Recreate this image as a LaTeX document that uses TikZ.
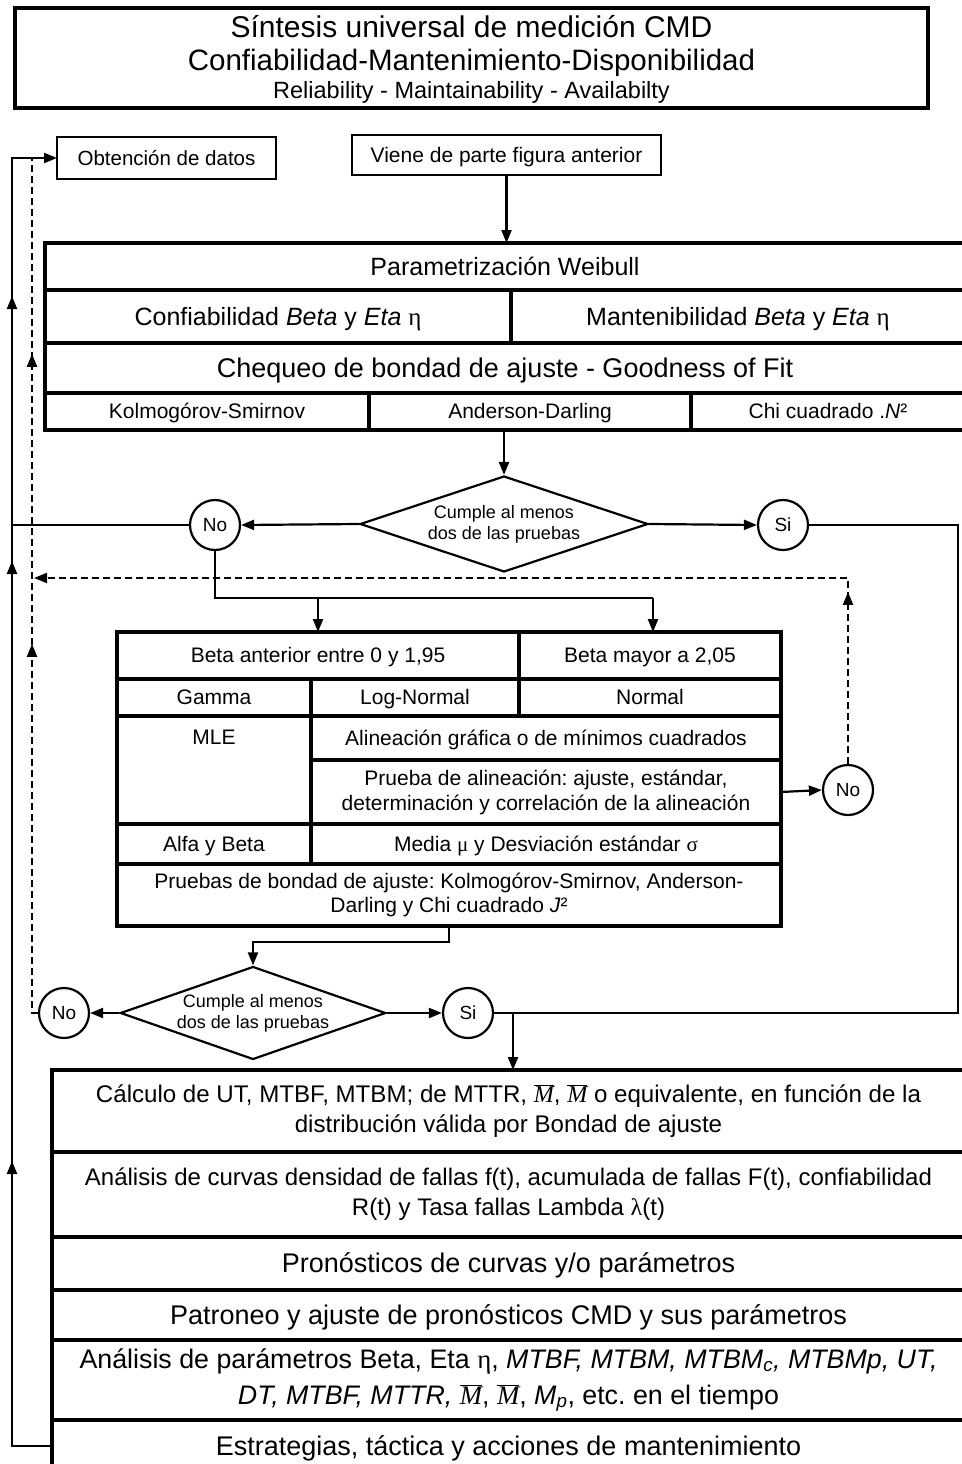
\documentclass[tikz,border=0pt]{standalone}
\usepackage{fontspec}
\setmainfont{Liberation Sans}
\newfontfamily\serif{Liberation Serif}
\usetikzlibrary{arrows.meta,shapes.geometric,decorations.markings}
\frenchspacing
\newcommand{\setfs}[2]{\fontsize{#1}{#2}\selectfont}
\newcommand{\sv}{\rule[-0.25em]{0pt}{1.2em}}
\newcommand{\mbar}{$\overline{\mbox{\serif\itshape M}}$}
\newcommand{\tcell}[7][]{\node[cell,minimum width={#5-#3},minimum height={#6-#4},#1] (#2) at (#3,#4) {#7};}
\tikzset{mytri/.tip={Triangle[length=13pt,width=10pt]}}
\begin{document}
\begin{tikzpicture}[x=1pt,y=-1pt,
 cell/.style={draw, line width=3.2pt, inner sep=0pt, outer sep=0pt, anchor=north west, align=center},
 box/.style={draw, line width=2.4pt, inner sep=0pt, outer sep=0pt, anchor=north west, align=center},
 txt/.style={inner sep=0pt, align=center},
 circ/.style={draw, circle, line width=2.2pt, minimum size=50pt, inner sep=0pt, font=\setfs{19}{22}},
 dia/.style={draw, diamond, aspect=3, line width=2.2pt, inner sep=0pt, align=center, font=\setfs{18}{21}},
 con/.style={line width=2.2pt},
 arr/.style={con, -mytri},
 dsh/.style={line width=2pt, dash pattern=on 7pt off 4pt},
]
\useasboundingbox (0,0) rectangle (961,1464);
\fill[white] (0,0) rectangle (961,1464);

% title
\node[box, line width=3.5pt, minimum width=913, minimum height=100] (title) at (15,8) {};
\node[txt, font=\setfs{30}{32}] (t1) at (471.5,27) {Síntesis universal de medición CMD};
\node[txt, font=\setfs{29.5}{32}] (t2) at (471.5,63) {Confiabilidad-Mantenimiento-Disponibilidad};
\node[txt, font=\setfs{23.5}{26}] (t3) at (471.5,92) {Reliability - Maintainability - Availabilty};

\node[box, minimum width=219, minimum height=42, font=\setfs{20.5}{24}] (obt) at (57,137) {\sv Obtención de datos};
\node[box, minimum width=309, minimum height=40, font=\setfs{21}{24}] (viene) at (352,135) {\sv Viene de parte figura anterior};

% Weibull table
\tcell[font=\setfs{25}{28}]{pw}{45}{243}{965}{290}{\sv Parametrización Weibull}
\tcell[font=\setfs{25}{28}]{conf}{45}{290}{511}{343}{\sv Confiabilidad \textit{Beta} y \textit{Eta} {\serif η}}
\tcell[font=\setfs{25}{28}]{mant}{511}{290}{965}{343}{\sv Mantenibilidad \textit{Beta} y \textit{Eta} {\serif η}}
\tcell[font=\setfs{27}{30}]{cheq}{45}{343}{965}{393}{\sv Chequeo de bondad de ajuste - Goodness of Fit}
\tcell[font=\setfs{21}{24}]{ks}{45}{393}{369}{430}{\sv Kolmogórov-Smirnov}
\tcell[font=\setfs{21}{24}]{ad}{369}{393}{691}{430}{\sv Anderson-Darling}
\tcell[font=\setfs{21}{24}]{chi}{691}{393}{965}{430}{\sv Chi cuadrado .\textit{N}²}

% decision 1
\node[dia, minimum width=288pt, minimum height=96pt] (d1) at (504,524) {Cumple al menos\\dos de las pruebas};
\node[circ] (no1) at (215,525) {No};
\node[circ] (si1) at (783,525) {Si};

% middle table
\tcell[font=\setfs{21}{24}]{bant}{117}{632}{519}{679}{\sv Beta anterior entre 0 y 1,95}
\tcell[font=\setfs{21}{24}]{bmay}{519}{632}{781}{679}{\sv Beta mayor a 2,05}
\tcell[font=\setfs{21}{24}]{gam}{117}{679}{311}{716}{\sv Gamma}
\tcell[font=\setfs{21}{24}]{logn}{311}{679}{519}{716}{\sv Log-Normal}
\tcell[font=\setfs{21}{24}]{norm}{519}{679}{781}{716}{\sv Normal}
\tcell{mle}{117}{716}{311}{824}{}
\node[txt, font=\setfs{21}{24}] (mlet) at (214,737) {\sv MLE};
\tcell[font=\setfs{21}{24}]{alin}{311}{716}{781}{760}{\sv Alineación gráfica o de mínimos cuadrados}
\tcell[font=\setfs{21}{25}]{prue}{311}{760}{781}{824}{Prueba de alineación: ajuste, estándar,\\determinación y correlación de la alineación}
\tcell[font=\setfs{21}{24}]{alfa}{117}{824}{311}{864}{\sv Alfa y Beta}
\tcell[font=\setfs{21}{24}]{media}{311}{824}{781}{864}{\sv Media {\serif μ} y Desviación estándar {\serif σ}}
\tcell[font=\setfs{21}{24}]{pb}{117}{864}{781}{926}{Pruebas de bondad de ajuste: Kolmogórov-Smirnov, Anderson-\\Darling y Chi cuadrado \textit{J}²}
\node[circ] (no3) at (848,790) {No};

% decision 2
\node[dia, minimum width=258pt, minimum height=93pt] (d2) at (253,1013) {Cumple al menos\\dos de las pruebas};
\node[circ] (no2) at (64,1013) {No};
\node[circ] (si2) at (468,1013) {Si};

% bottom table
\tcell[font=\setfs{24.1}{30}]{calc}{52}{1070}{965}{1152}{Cálculo de UT, MTBF, MTBM; de MTTR, \mbar, \mbar{} o equivalente, en función de la\\distribución válida por Bondad de ajuste}
\tcell[font=\setfs{24}{30}]{curv}{52}{1152}{965}{1237}{Análisis de curvas densidad de fallas f(t), acumulada de fallas F(t), confiabilidad\\R(t) y Tasa fallas Lambda {\serif λ}(t)}
\tcell[font=\setfs{27}{30}]{pron}{52}{1237}{965}{1290}{\sv Pronósticos de curvas y/o parámetros}
\tcell[font=\setfs{27}{30}]{patr}{52}{1290}{965}{1340}{\sv Patroneo y ajuste de pronósticos CMD y sus parámetros}
\tcell[font=\setfs{26.8}{36}]{apar}{52}{1340}{965}{1420}{Análisis de parámetros Beta, Eta {\serif η}, \textit{MTBF, MTBM, MTBM\textsubscript{c}, MTBMp, UT,}\\\textit{DT, MTBF, MTTR,} \mbar, \mbar, \textit{M\textsubscript{p}}, etc. en el tiempo}
\tcell[font=\setfs{27}{30}]{estr}{52}{1420}{965}{1472}{\sv Estrategias, táctica y acciones de mantenimiento}

% coordinates
\coordinate (L) at (12,158);
\coordinate (D) at (32,158);
\coordinate (H) at (34,578);
\coordinate (B1) at (318,598);
\coordinate (B2) at (653,598);
\coordinate (R) at (958,1013);
\coordinate (M) at (513,1013);

% connectors
\draw[arr] (viene.south) -- (viene.south |- pw.north);
\draw[arr] (d1.north |- ks.south) -- (d1.north);
\draw[arr] (d1.west) -- (no1.east);
\draw[arr] (d1.east) -- (si1.west);
\draw[con] (no1.west) -- (no1.west -| L);
\draw[con] (no1.south) |- (B2);
\draw[arr] (B1) -- (B1 |- bant.north);
\draw[arr] (B2) -- (B2 |- bmay.north);
\draw[arr] (prue.east) -- (no3.west);
\draw[arr] (pb.south) -- ++(0,16) -| (d2.north);
\draw[arr] (d2.west) -- (no2.east);
\draw[arr] (d2.east) -- (si2.west);
\draw[con] (si1.east) -| (R) -- (si2.east);
\draw[arr] (M) -- (M |- calc.north);

% left solid feedback
\draw[arr, postaction={decorate}, decoration={markings,
   mark=at position 325pt with {\arrow{mytri}},
   mark=at position 925pt with {\arrow{mytri}},
   mark=at position 1190pt with {\arrow{mytri}}}]
  (estr.west) -- (L |- estr.west) -- (L) -- (obt.west);

% dashed feedbacks
\draw[dsh, postaction={decorate}, decoration={markings,
   mark=at position 375pt with {\pgfsetdash{}{0pt}\arrow{mytri}},
   mark=at position 665pt with {\pgfsetdash{}{0pt}\arrow{mytri}}}]
  (no2.west) -- (D |- no2.west) -- (D);
\draw[dsh, -mytri, postaction={decorate}, decoration={markings,
   mark=at position 172pt with {\pgfsetdash{}{0pt}\arrow{mytri}}}]
  (no3.north) -- (no3.north |- H) -- (H);
\end{tikzpicture}
\end{document}
